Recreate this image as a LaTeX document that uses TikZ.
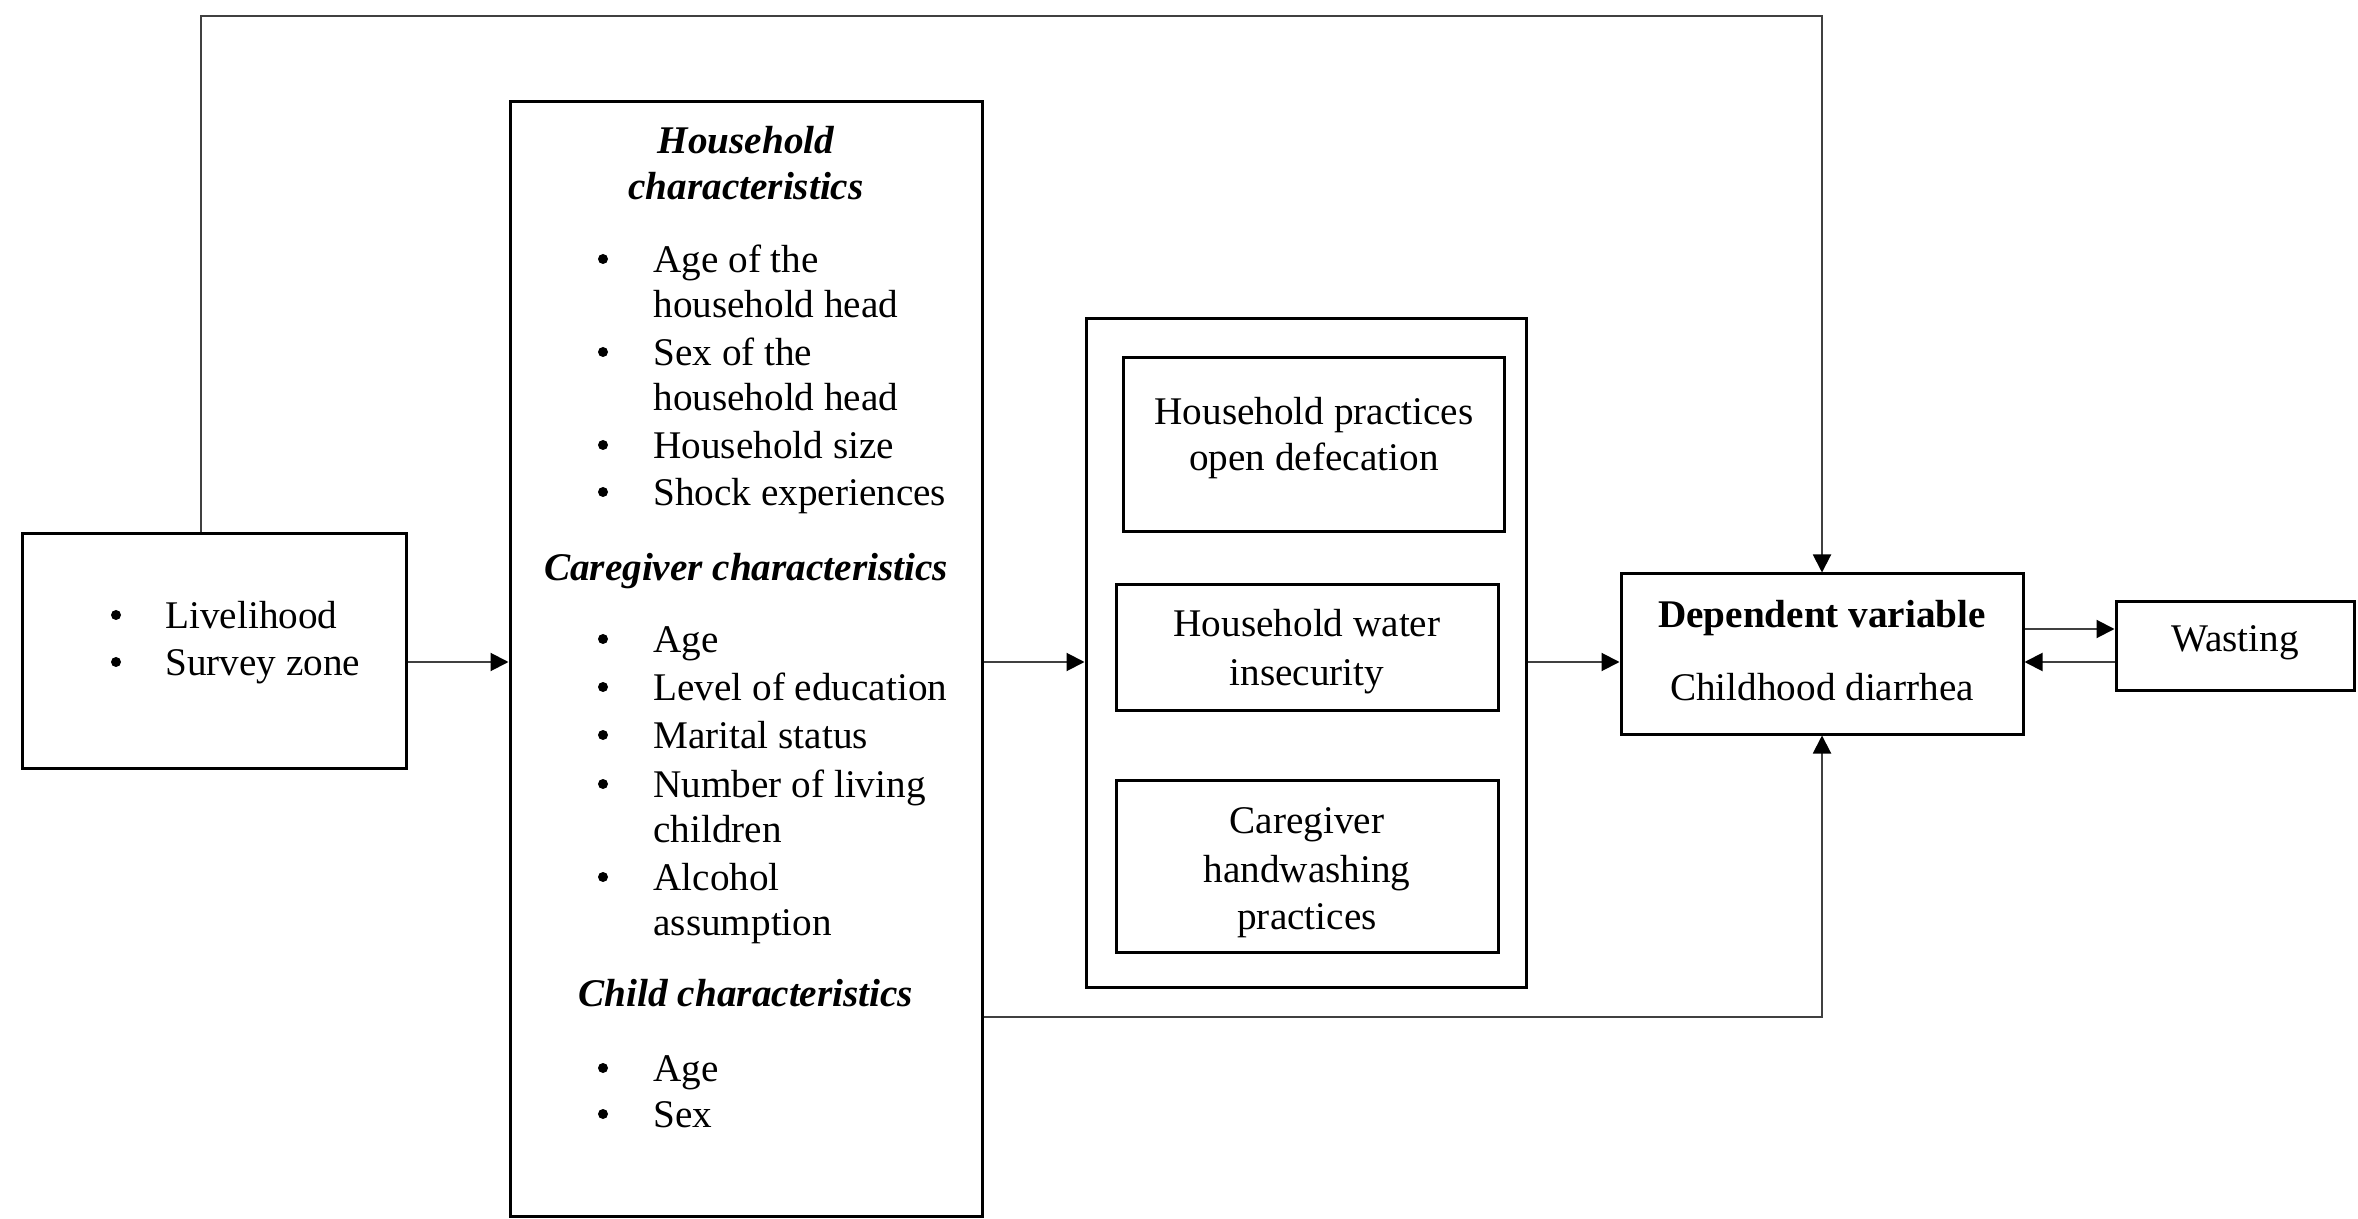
\documentclass[tikz,border=0pt]{standalone}
\usepackage{fontspec}
\setmainfont{Liberation Serif}
\usetikzlibrary{arrows.meta,fit}
\begin{document}
\begin{tikzpicture}[x=0.5pt,y=-0.5pt,
 box/.style={draw, line width=1.5pt, inner sep=0pt},
 conn/.style={draw=black!75, line width=1pt},
 arr/.style={conn, -{Triangle[length=9pt,width=9pt,color=black]}},
 txt/.style={inner sep=0pt, anchor=mid, yshift=-4.5pt, font=\fontsize{19.6}{22}\selectfont},
 lt/.style={txt, anchor=mid west},
 hd/.style={txt, font=\fontsize{19.6}{22}\selectfont\bfseries\itshape},
 bd/.style={txt, font=\fontsize{19.6}{22}\selectfont\bfseries},
 bul/.style={inner sep=0pt, circle, fill, minimum size=5pt},
]
\useasboundingbox (0,0) rectangle (2358,1219);

% boxes
\node[box, fit={(22,534)(406,768)}] (lb) {};
\node[box, fit={(510,102)(982,1216)}] (big) {};
\node[box, fit={(1086,319)(1526,987)}] (mid) {};
\node[box, fit={(1123,358)(1504,532)}] (m1) {};
\node[box, fit={(1116,585)(1498,710)}] (m2) {};
\node[box, fit={(1116,780)(1498,952)}] (m3) {};
\node[box, fit={(1621,574)(2023,734)}] (dep) {};
\node[box, fit={(2116,602)(2354,690)}] (was) {};

% left box text
\node[bul] (lbb1) at (116,615) {};
\node[lt] (lbt1) at (165,615) {Livelihood};
\node[bul] (lbb2) at (116,662) {};
\node[lt] (lbt2) at (165,662) {Survey zone};

% big box text
\node[hd] (h1a) at (746,140) {Household};
\node[hd] (h1b) at (746,186) {characteristics};
\node[bul] (b1) at (603,259) {};
\node[lt] (t1) at (653,259) {Age of the};
\node[lt] (t1b) at (653,304) {household head};
\node[bul] (b2) at (603,352) {};
\node[lt] (t2) at (653,352) {Sex of the};
\node[lt] (t2b) at (653,397) {household head};
\node[bul] (b3) at (603,445) {};
\node[lt] (t3) at (653,445) {Household size};
\node[bul] (b4) at (603,492) {};
\node[lt] (t4) at (653,492) {Shock experiences};
\node[hd] (h2) at (746,567) {Caregiver characteristics};
\node[bul] (b5) at (603,639) {};
\node[lt] (t5) at (653,639) {Age};
\node[bul] (b6) at (603,687) {};
\node[lt] (t6) at (653,687) {Level of education};
\node[bul] (b7) at (603,735) {};
\node[lt] (t7) at (653,735) {Marital status};
\node[bul] (b8) at (603,784) {};
\node[lt] (t8) at (653,784) {Number of living};
\node[lt] (t8b) at (653,829) {children};
\node[bul] (b9) at (603,877) {};
\node[lt] (t9) at (653,877) {Alcohol};
\node[lt] (t9b) at (653,922) {assumption};
\node[hd] (h3) at (746,993) {Child characteristics};
\node[bul] (b10) at (603,1068) {};
\node[lt] (t10) at (653,1068) {Age};
\node[bul] (b11) at (603,1114) {};
\node[lt] (t11) at (653,1114) {Sex};

% middle boxes text
\node[txt] (m1a) at (1314,411) {Household practices};
\node[txt] (m1b) at (1314,457) {open defecation};
\node[txt] (m2a) at (1307,623) {Household water};
\node[txt] (m2b) at (1307,672) {insecurity};
\node[txt] (m3a) at (1307,820) {Caregiver};
\node[txt] (m3b) at (1307,869) {handwashing};
\node[txt] (m3c) at (1307,916) {practices};

% dependent and wasting
\node[bd] (d1) at (1822,614) {Dependent variable};
\node[txt] (d2) at (1822,687) {Childhood diarrhea};
\node[txt] (w1) at (2235,638) {Wasting};

% connectors
\coordinate (ya) at (0,662);
\coordinate (ytop) at (0,16);
\coordinate (xtop) at (201,0);
\coordinate (ybot) at (0,1017);
\coordinate (yw1) at (0,629);
\coordinate (yw2) at (0,662);

\draw[arr] (lb.east |- ya) -- (big.west |- ya);
\draw[arr] (big.east |- ya) -- (mid.west |- ya);
\draw[arr] (mid.east |- ya) -- (dep.west |- ya);
\draw[arr] (lb.north -| xtop) |- (ytop -| dep.north) -- (dep.north);
\draw[arr] (big.east |- ybot) -| (dep.south);
\draw[arr] (dep.east |- yw1) -- (was.west |- yw1);
\draw[arr] (was.west |- yw2) -- (dep.east |- yw2);
\end{tikzpicture}
\end{document}
